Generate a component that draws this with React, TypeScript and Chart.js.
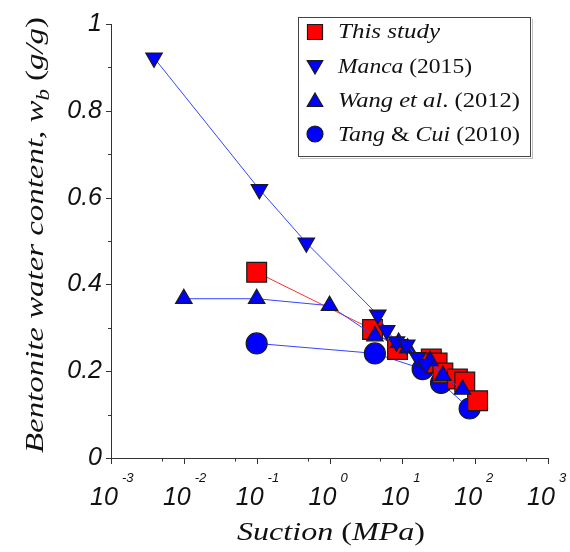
import React, { useEffect, useRef } from 'react';
import { Chart, registerables } from 'chart.js';

Chart.register(...registerables);

// ---- data (suction in MPa, bentonite water content in g/g) ----
const thisStudySuction = [0.1, 3.9, 8.6, 25, 30, 36, 57, 72, 108];
const thisStudyWater = [0.428, 0.296, 0.25, 0.228, 0.219, 0.196, 0.182, 0.175, 0.132];

const mancaSuction = [0.0039, 0.109, 0.48, 4.6, 6.1, 8.3, 11.5, 16.2, 21];
const mancaWater = [0.922, 0.619, 0.496, 0.33, 0.294, 0.268, 0.261, 0.232, 0.216];

const wangSuction = [0.01, 0.1, 1.0, 4.2, 8.9, 11.8, 24, 36, 67];
const wangWater = [0.367, 0.367, 0.351, 0.281, 0.266, 0.253, 0.224, 0.19, 0.158];

const tangSuction = [0.1, 4.2, 19, 34, 84];
const tangWater = [0.264, 0.241, 0.205, 0.173, 0.114];

const xTickExponents = [-3, -2, -1, 0, 1, 2, 3];
const xMinorMultipliers = [5];
const yMinorStep = 0.1;
const yTickLabels = ['0', '0.2', '0.4', '0.6', '0.8', '1'];

const SERIF = '"Liberation Serif", "DejaVu Serif", serif';
const SANS = '"Liberation Sans", Arial, sans-serif';

const RED = '#ff0000';
const BLUE = '#0000ff';
const EDGE = '#1a1a1a';

type Run = { t: string; italic: boolean; scale?: number; dy?: number };

function runsWidth(ctx: CanvasRenderingContext2D, runs: Run[], size: number) {
  let total = 0;
  for (const r of runs) {
    ctx.font = `${r.italic ? 'italic ' : ''}${size * (r.scale || 1)}px ${SERIF}`;
    total += ctx.measureText(r.t).width;
  }
  return total;
}

// draws the runs at a given font size, stretched horizontally to a target width
function drawRuns(
  ctx: CanvasRenderingContext2D,
  runs: Run[],
  x: number,
  y: number,
  size: number,
  align: 'left' | 'center',
  target: number
) {
  const natural = runsWidth(ctx, runs, size);
  const sx = target / natural;
  ctx.save();
  ctx.translate(x, y);
  ctx.scale(sx, 1);
  let cx = align === 'center' ? -natural / 2 : 0;
  ctx.textAlign = 'left';
  ctx.textBaseline = 'alphabetic';
  for (const r of runs) {
    ctx.font = `${r.italic ? 'italic ' : ''}${size * (r.scale || 1)}px ${SERIF}`;
    ctx.fillText(r.t, cx, (r.dy || 0) * size);
    cx += ctx.measureText(r.t).width;
  }
  ctx.restore();
}

function drawMarker(ctx: CanvasRenderingContext2D, kind: string, x: number, y: number, fill: string) {
  ctx.save();
  ctx.fillStyle = fill;
  ctx.strokeStyle = EDGE;
  ctx.lineWidth = 1.2;
  ctx.beginPath();
  if (kind === 'rect') {
    ctx.rect(x - 7.5, y - 7.5, 15, 15);
  } else if (kind === 'circle') {
    ctx.arc(x, y, 8, 0, Math.PI * 2);
  } else {
    const r = 9;
    const rot = kind === 'down' ? Math.PI : 0;
    for (let i = 0; i < 3; i++) {
      const a = rot + (i * 2 * Math.PI) / 3;
      const px = x + Math.sin(a) * r;
      const py = y - Math.cos(a) * r;
      if (i === 0) ctx.moveTo(px, py);
      else ctx.lineTo(px, py);
    }
    ctx.closePath();
  }
  ctx.fill();
  ctx.stroke();
  ctx.restore();
}

const decorations = {
  id: 'decorations',
  beforeDatasetsDraw(chart: any) {
    const ctx: CanvasRenderingContext2D = chart.ctx;
    const xs = chart.scales.x;
    const ys = chart.scales.y;
    const { left, right, top, bottom } = chart.chartArea;
    ctx.save();
    ctx.strokeStyle = '#333';
    ctx.lineWidth = 1;
    ctx.beginPath();
    ctx.moveTo(left + 0.5, top);
    ctx.lineTo(left + 0.5, bottom + 0.5);
    ctx.lineTo(right, bottom + 0.5);
    ctx.stroke();
    // x ticks
    ctx.beginPath();
    for (const e of xTickExponents) {
      const px = Math.round(xs.getPixelForValue(Math.pow(10, e))) + 0.5;
      ctx.moveTo(px, bottom);
      ctx.lineTo(px, bottom + 6);
      if (e < 3) {
        for (const m of xMinorMultipliers) {
          const mx = Math.round(xs.getPixelForValue(m * Math.pow(10, e))) + 0.5;
          ctx.moveTo(mx, bottom);
          ctx.lineTo(mx, bottom + 3.5);
        }
      }
    }
    // y ticks
    for (let i = 0; i <= 10; i++) {
      const py = Math.round(ys.getPixelForValue(i * yMinorStep)) + 0.5;
      const len = i % 2 === 0 ? 5 : 3;
      ctx.moveTo(left - len, py);
      ctx.lineTo(left, py);
    }
    ctx.stroke();
    ctx.restore();
  },
  afterDraw(chart: any) {
    const ctx: CanvasRenderingContext2D = chart.ctx;
    const xs = chart.scales.x;
    ctx.save();
    ctx.fillStyle = '#111';
    // x tick labels 10^n
    for (const e of xTickExponents) {
      const px = xs.getPixelForValue(Math.pow(10, e));
      ctx.font = `italic 25px ${SANS}`;
      ctx.textAlign = 'left';
      ctx.textBaseline = 'alphabetic';
      const w = ctx.measureText('10').width;
      const x0 = px - 7 - w / 2;
      ctx.fillText('10', x0, 505);
      ctx.font = `italic 13px ${SANS}`;
      ctx.fillText(String(e), x0 + w + 4, 482);
    }

    // x title
    const xRuns: Run[] = [
      { t: 'Suction ', italic: true },
      { t: '(', italic: false },
      { t: 'MPa', italic: true },
      { t: ')', italic: false },
    ];
    drawRuns(ctx, xRuns, 331, 540, 25, 'center', 188);

    // y title
    const yRuns: Run[] = [
      { t: 'Bentonite water content, ', italic: true },
      { t: 'w', italic: true },
      { t: 'b', italic: true, scale: 0.7, dy: 0.22 },
      { t: ' ', italic: false },
      { t: '(', italic: false },
      { t: 'g/g', italic: true },
      { t: ')', italic: false },
    ];
    ctx.save();
    ctx.translate(43, 235);
    ctx.rotate(-Math.PI / 2);
    drawRuns(ctx, yRuns, 0, 0, 26, 'center', 436);
    ctx.restore();

    // legend box
    ctx.fillStyle = '#ffffff';
    ctx.fillRect(298, 17, 233, 140);
    ctx.strokeStyle = '#444';
    ctx.lineWidth = 1;
    ctx.strokeRect(298.5, 17.5, 232, 139);
    ctx.strokeStyle = 'rgba(0,0,0,0.25)';
    ctx.beginPath();
    ctx.moveTo(300, 158.5);
    ctx.lineTo(532.5, 158.5);
    ctx.lineTo(532.5, 19);
    ctx.stroke();

    const legendRows: { runs: Run[]; marker: string; color: string; cy: number; base: number; w: number }[] = [
      { runs: [{ t: 'This study', italic: true }], marker: 'rect', color: RED, cy: 32, base: 38, w: 102 },
      {
        runs: [
          { t: 'Manca ', italic: true },
          { t: '(2015)', italic: false },
        ],
        marker: 'down',
        color: BLUE,
        cy: 65,
        base: 72.5,
        w: 134,
      },
      {
        runs: [
          { t: 'Wang et al', italic: true },
          { t: '. (2012)', italic: false },
        ],
        marker: 'up',
        color: BLUE,
        cy: 102,
        base: 107,
        w: 182,
      },
      {
        runs: [
          { t: 'Tang ', italic: true },
          { t: '& ', italic: false },
          { t: 'Cui ', italic: true },
          { t: '(2010)', italic: false },
        ],
        marker: 'circle',
        color: BLUE,
        cy: 134,
        base: 141,
        w: 182,
      },
    ];
    for (const row of legendRows) {
      drawMarker(ctx, row.marker, 315, row.cy, row.color);
      ctx.fillStyle = '#111';
      drawRuns(ctx, row.runs, 338, row.base, 21, 'left', row.w);
    }
    ctx.restore();
  },
};

function zip(xs: number[], ys: number[]) {
  return xs.map((x, i) => ({ x, y: ys[i] }));
}

export default function App() {
  const ref = useRef<HTMLCanvasElement | null>(null);

  useEffect(() => {
    if (!ref.current) return;
    const blueLine = '#3344ff';
    const chart = new Chart(ref.current, {
      type: 'scatter',
      data: {
        datasets: [
          {
            label: 'This study',
            data: zip(thisStudySuction, thisStudyWater),
            showLine: true,
            borderColor: '#ff3030',
            borderWidth: 1,
            pointStyle: 'rect',
            pointRadius: 14,
            pointBackgroundColor: RED,
            pointBorderColor: EDGE,
            pointBorderWidth: 1.2,
            order: 2,
          },
          {
            label: 'Manca (2015)',
            data: zip(mancaSuction, mancaWater),
            showLine: true,
            borderColor: blueLine,
            borderWidth: 1,
            pointStyle: 'triangle',
            pointRotation: 180,
            pointRadius: 9.5,
            pointBackgroundColor: BLUE,
            pointBorderColor: EDGE,
            pointBorderWidth: 1.2,
            order: 0,
          },
          {
            label: 'Wang et al. (2012)',
            data: zip(wangSuction, wangWater),
            showLine: true,
            borderColor: blueLine,
            borderWidth: 1,
            pointStyle: 'triangle',
            pointRadius: 9.5,
            pointBackgroundColor: BLUE,
            pointBorderColor: EDGE,
            pointBorderWidth: 1.2,
            order: 1,
          },
          {
            label: 'Tang & Cui (2010)',
            data: zip(tangSuction, tangWater),
            showLine: true,
            borderColor: blueLine,
            borderWidth: 1,
            pointStyle: 'circle',
            pointRadius: 10.5,
            pointBackgroundColor: BLUE,
            pointBorderColor: EDGE,
            pointBorderWidth: 1.2,
            order: 3,
          },
        ] as any,
      },
      options: {
        animation: false,
        responsive: false,
        maintainAspectRatio: false,
        layout: { padding: { top: 19, right: 22, left: 0, bottom: 0 } },
        plugins: {
          legend: { display: false },
          tooltip: { enabled: false },
        },
        scales: {
          x: {
            type: 'logarithmic',
            min: 0.001,
            max: 1000,
            grid: { display: false, drawTicks: false },
            border: { display: false },
            ticks: { display: false },
            afterFit: (s: any) => {
              s.height = 94;
            },
          },
          y: {
            type: 'linear',
            min: 0,
            max: 1,
            grid: { display: false, drawTicks: false },
            border: { display: false },
            ticks: {
              stepSize: 0.2,
              padding: 9,
              color: '#111',
              font: { family: SANS, size: 25, style: 'italic' },
              callback: (_v: any, i: number) => yTickLabels[i] ?? '',
            },
            afterFit: (s: any) => {
              s.width = 111;
            },
          },
        },
      } as any,
      plugins: [decorations],
    });
    return () => chart.destroy();
  }, []);

  return (
    <div style={{ position: 'fixed', left: 0, top: 0, width: 570, height: 552, background: '#fff' }}>
      <canvas ref={ref} width={570} height={552} style={{ width: 570, height: 552, display: 'block' }} />
    </div>
  );
}
